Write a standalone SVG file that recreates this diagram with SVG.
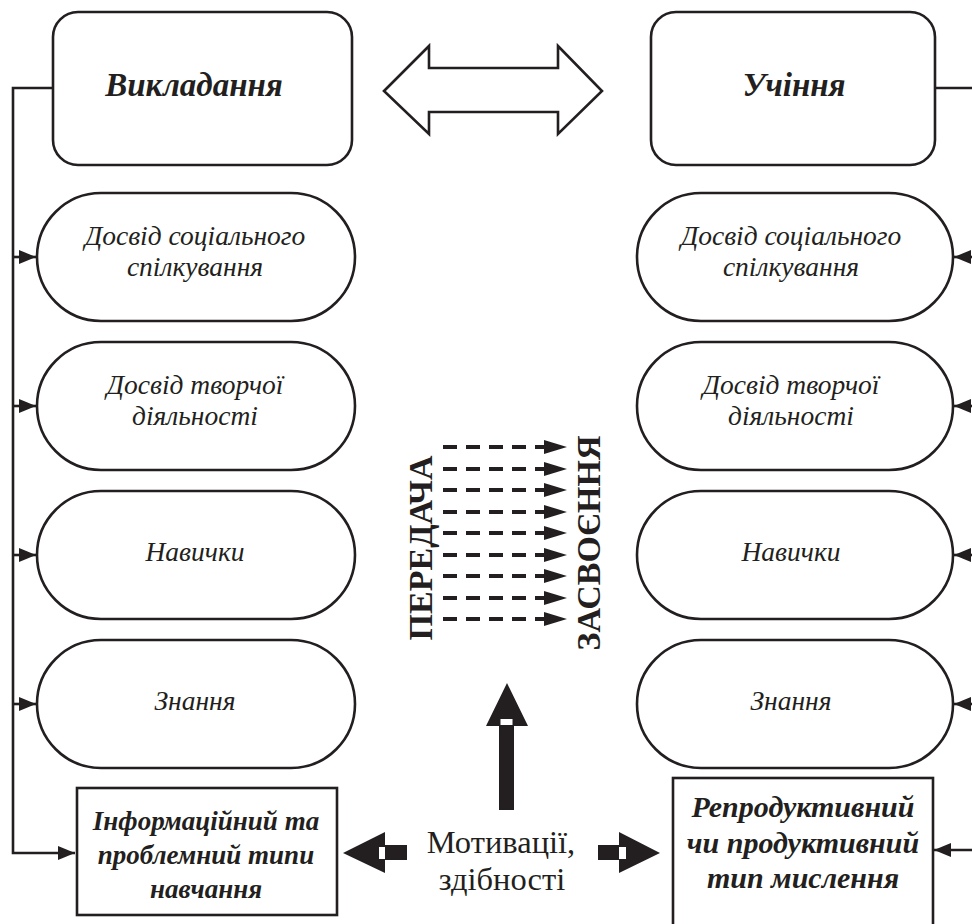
<svg xmlns="http://www.w3.org/2000/svg" width="972" height="924" viewBox="0 0 972 924">
<defs>
<style>
.box{fill:#fff;stroke:#231f20;stroke-width:2.6}
.ln{fill:none;stroke:#231f20;stroke-width:2.6}
text{font-family:'Liberation Serif','Times New Roman',serif;fill:#231f20;text-anchor:middle}
.title{font-weight:bold;font-style:italic;font-size:33px}
.it{font-style:italic;font-size:27.5px}
.bi{font-weight:bold;font-style:italic;font-size:27px}
.bi2{font-weight:bold;font-style:italic;font-size:30px}
.big{font-weight:bold;font-size:34px}
.mot{font-size:32.5px}
.dash{fill:none;stroke:#231f20;stroke-width:4;stroke-dasharray:14 9}
.blk{fill:#231f20}
</style>
<marker id="ah" markerUnits="userSpaceOnUse" markerWidth="17" markerHeight="14" refX="17" refY="7" orient="auto">
<path d="M0,0 L17,7 L0,14 z" fill="#231f20"/>
</marker>
</defs>
<rect width="972" height="924" fill="#fff"/>

<g id="connectors">
<polyline class="ln" points="53,88 13,88 13,853 75,853" marker-end="url(#ah)"/>
<line class="ln" x1="13" y1="257" x2="36" y2="257" marker-end="url(#ah)"/>
<line class="ln" x1="13" y1="406" x2="36" y2="406" marker-end="url(#ah)"/>
<line class="ln" x1="13" y1="555" x2="36" y2="555" marker-end="url(#ah)"/>
<line class="ln" x1="13" y1="704" x2="36" y2="704" marker-end="url(#ah)"/>
<polyline class="ln" points="935,88 975,88 975,850"/>
<line class="ln" x1="975" y1="257" x2="954" y2="257" marker-end="url(#ah)"/>
<line class="ln" x1="975" y1="406" x2="954" y2="406" marker-end="url(#ah)"/>
<line class="ln" x1="975" y1="555" x2="954" y2="555" marker-end="url(#ah)"/>
<line class="ln" x1="975" y1="704" x2="954" y2="704" marker-end="url(#ah)"/>
<line class="ln" x1="975" y1="850" x2="934" y2="850" marker-end="url(#ah)"/>
</g>

<g id="teaching">
<rect class="box" x="53" y="12" width="299" height="153" rx="25"/>
<text class="title" x="194" y="96">Викладання</text>
</g>
<g id="learning">
<rect class="box" x="651" y="12" width="284" height="153" rx="25"/>
<text class="title" x="794" y="96">Учіння</text>
</g>

<g id="double-arrow">
<polygon class="box" points="384,91 429,46 429,68 558,68 558,46 602,91 558,134 558,112 429,112 429,134"/>
</g>

<g id="l-social">
<rect class="box" x="37" y="193" width="318" height="128" rx="64"/>
<text class="it" x="195" y="245">Досвід соціального</text>
<text class="it" x="195" y="276">спілкування</text>
</g>
<g id="l-creative">
<rect class="box" x="37" y="342" width="318" height="128" rx="64"/>
<text class="it" x="195" y="394">Досвід творчої</text>
<text class="it" x="195" y="425">діяльності</text>
</g>
<g id="l-skills">
<rect class="box" x="37" y="491" width="318" height="128" rx="64"/>
<text class="it" x="195" y="561">Навички</text>
</g>
<g id="l-knowledge">
<rect class="box" x="37" y="640" width="318" height="128" rx="64"/>
<text class="it" x="195" y="710">Знання</text>
</g>

<g id="r-social">
<rect class="box" x="637" y="193" width="316" height="128" rx="64"/>
<text class="it" x="791" y="245">Досвід соціального</text>
<text class="it" x="791" y="276">спілкування</text>
</g>
<g id="r-creative">
<rect class="box" x="637" y="342" width="316" height="128" rx="64"/>
<text class="it" x="791" y="394">Досвід творчої</text>
<text class="it" x="791" y="425">діяльності</text>
</g>
<g id="r-skills">
<rect class="box" x="637" y="491" width="316" height="128" rx="64"/>
<text class="it" x="791" y="561">Навички</text>
</g>
<g id="r-knowledge">
<rect class="box" x="637" y="640" width="316" height="128" rx="64"/>
<text class="it" x="791" y="710">Знання</text>
</g>

<g id="l-types">
<rect class="box" x="77" y="788" width="260" height="127"/>
<text class="bi" x="206" y="830">Інформаційний та</text>
<text class="bi" x="206" y="864">проблемний типи</text>
<text class="bi" x="206" y="898">навчання</text>
</g>
<g id="r-thinking">
<rect class="box" x="673" y="778" width="260" height="150"/>
<text class="bi2" x="803" y="817">Репродуктивний</text>
<text class="bi2" x="803" y="853">чи продуктивний</text>
<text class="bi2" x="803" y="888">тип мислення</text>
</g>

<g id="transfer">
<line class="dash" x1="443" y1="447" x2="548" y2="447"/>
<line class="dash" x1="443" y1="469" x2="548" y2="469"/>
<line class="dash" x1="443" y1="490" x2="548" y2="490"/>
<line class="dash" x1="443" y1="512" x2="548" y2="512"/>
<line class="dash" x1="443" y1="533" x2="548" y2="533"/>
<line class="dash" x1="443" y1="555" x2="548" y2="555"/>
<line class="dash" x1="443" y1="576" x2="548" y2="576"/>
<line class="dash" x1="443" y1="598" x2="548" y2="598"/>
<line class="dash" x1="443" y1="619" x2="548" y2="619"/>
<g class="blk">
<polygon points="544,440 567,447 544,454"/>
<polygon points="544,462 567,469 544,476"/>
<polygon points="544,483 567,490 544,497"/>
<polygon points="544,505 567,512 544,519"/>
<polygon points="544,526 567,533 544,540"/>
<polygon points="544,548 567,555 544,562"/>
<polygon points="544,569 567,576 544,583"/>
<polygon points="544,591 567,598 544,605"/>
<polygon points="544,612 567,619 544,626"/>
</g>
<text class="big" transform="translate(432,548) rotate(-90)">ПЕРЕДАЧА</text>
<text class="big" transform="translate(600,543) rotate(-90)">ЗАСВОЄННЯ</text>
</g>

<g id="motivation">
<polygon class="blk" points="507,683 528,726 514,726 514,810 499,810 499,726 486,726"/>
<rect x="500.5" y="719" width="12" height="6" fill="#fff"/>
<polygon class="blk" points="343,853 385,832 385,845 407,845 407,860 385,860 385,873"/>
<rect x="379" y="847" width="6" height="12" fill="#fff"/>
<polygon class="blk" points="660,853 619,832 619,845 598,845 598,860 619,860 619,873"/>
<rect x="619" y="847" width="7" height="12" fill="#fff"/>
<text class="mot" x="501" y="853">Мотивації,</text>
<text class="mot" x="502" y="890">здібності</text>
</g>
</svg>
